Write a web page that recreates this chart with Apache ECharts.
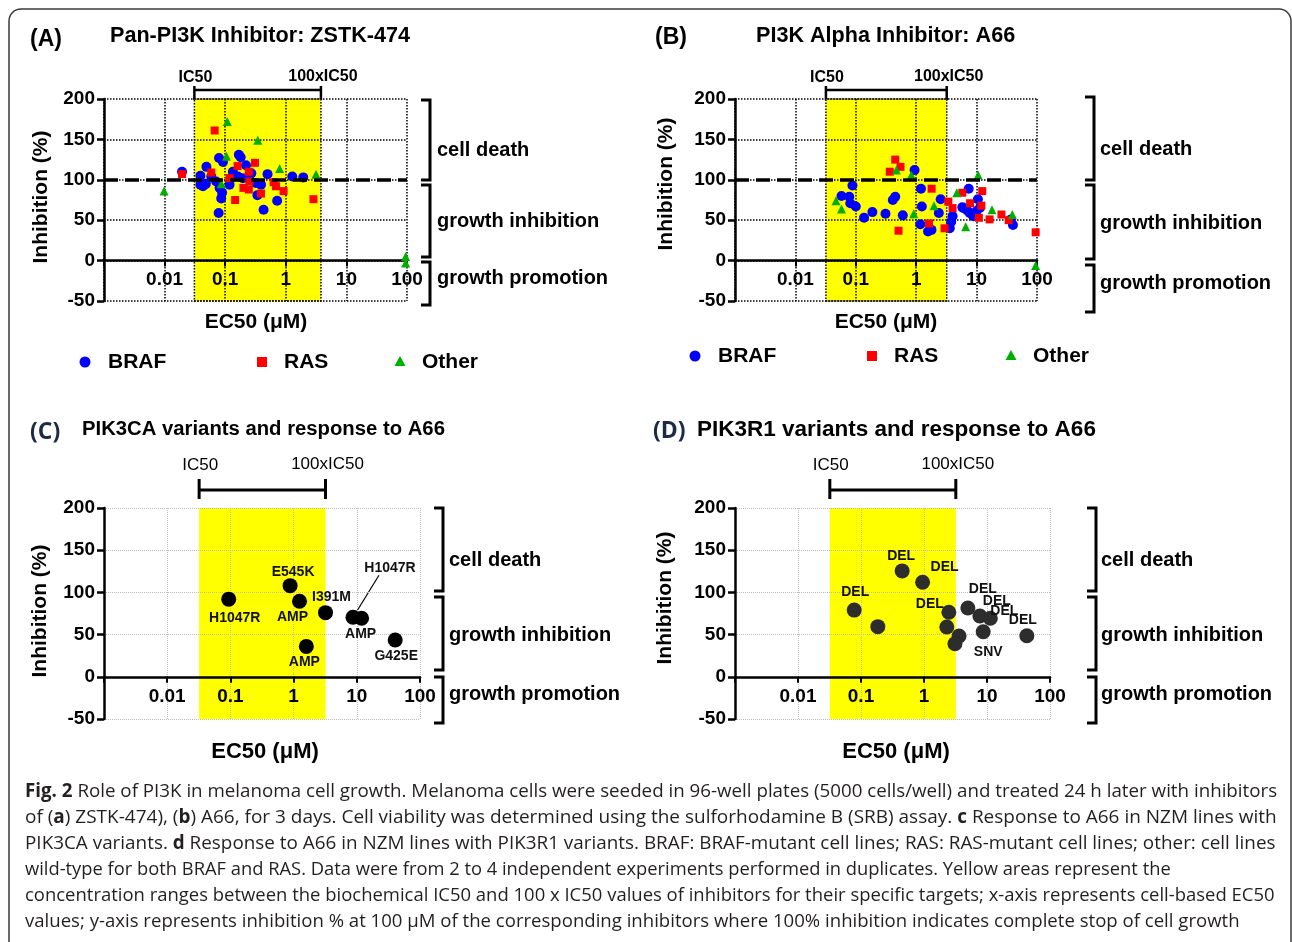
<!DOCTYPE html>
<html>
<head>
<meta charset="utf-8">
<script src="https://cdn.jsdelivr.net/npm/echarts@6/dist/echarts.min.js"></script>
<style>
  html, body { margin: 0; padding: 0; background: #fff; }
  #fig { width: 1292px; height: 942px; }
</style>
</head>
<body>
<div id="fig"></div>
<script>
// ---- data: [EC50 (uM), inhibition (%)] ----
// (A) pan-PI3K inhibitor ZSTK-474
var aBraf = [[0.0194,110],[0.039,105],[0.049,116],[0.079,127],[0.092,122],[0.039,94],[0.048,95],[0.059,104],
  [0.071,98],[0.081,90],[0.086,77],[0.078,59],[0.089,84],[0.126,102],[0.134,110],[0.168,131],[0.18,128],
  [0.22,118],[0.195,102],[0.25,104],[0.32,96],[0.34,81],[0.27,108],[0.39,94],[0.50,107],[0.43,63],
  [0.72,74],[1.28,104],[1.94,103],[0.118,94],[0.162,104],[0.043,92]];
var aRas = [[0.067,161],[0.0194,107],[0.059,109],[0.31,121],[0.16,117],[0.2,90],[0.245,88],[0.146,75],
  [0.63,97],[0.69,92],[0.92,86],[2.86,76],[0.39,83],[0.118,102],[0.245,110],[0.25,98]];
var aOther = [[0.0098,86],[0.108,172],[0.345,149],[0.79,114],[3.15,107],[0.105,129],[0.086,95],[95,5],[95,-3]];
var aIC50 = [0.031, 3.8];

// (B) PI3K alpha inhibitor A66
var bBraf = [[0.058,80],[0.088,93],[0.078,79],[0.081,71],[0.1,67],[0.137,53],[0.188,60],[0.31,58],[0.41,75],
  [0.45,79],[0.6,56],[0.94,112],[1.2,89],[1.24,67],[1.17,45],[1.57,36],[1.79,38],[2.37,59],[2.54,76],
  [4.0,55],[3.8,48],[3.6,40],[5.8,66],[7.4,89],[10.5,76],[6.0,65],[7.7,59],[8.8,55],[9.9,61],[11.3,65],
  [7,62],[37,51],[40,44]];
var bRas = [[0.365,110],[0.45,125],[0.55,116],[0.51,37],[1.8,89],[1.63,46],[2.95,40],[3.4,73],[5.8,84],
  [12.4,86],[12,68],[10.9,53],[16.4,51],[25.8,57],[34,50],[95,35],[7.8,71],[4.0,65]];
var bOther = [[0.047,74],[0.058,64],[0.47,112],[0.83,106],[0.91,58],[1.97,68],[4.7,84],[6.6,42],[10.6,106],
  [18,63],[39,57],[95,-6]];
var bIC50 = [0.032, 3.2];

// (C) PIK3CA variants, A66
var cEc50 = [0.094, 0.88, 1.24, 3.2, 1.59, 8.7, 11.9, 40.5];
var cInh = [92, 108, 89.5, 76, 36, 70.5, 69.3, 43.6];
var cVariant = ['H1047R', 'E545K', 'AMP', 'I391M', 'AMP', 'H1047R', 'AMP', 'G425E'];
var cIC50 = [0.032, 3.2];

// (D) PIK3R1 variants, A66
var dEc50 = [0.078, 0.45, 0.95, 0.185, 2.48, 2.3, 3.6, 3.1, 4.97, 7.7, 11.3, 8.7, 42.9];
var dInh = [79, 125.5, 112, 59.4, 76.5, 59, 48.3, 39.2, 81.6, 72, 69.3, 53.4, 48.7];
var dVariant = ['DEL', 'DEL', 'DEL', 'INDEL', 'DEL', 'INDEL', 'INDEL', '', 'DEL', 'DEL', 'DEL', 'SNV', 'DEL'];
var dIC50 = [0.032, 3.2];

// label placement (pixel shifts from the point)
var cLabelShift = [[6,19],[3,-14],[-7,16],[6,-16],[-2,16],[37,-49],[-1,16],[1,16]];
var dLabelShift = [[1,-18],[-1,-15],[22,-15],null,[-19,-8],null,null,null,[15,-19],[17,-15],[14,-7],[5,20],[-4,-16]];

var FONT = '"Liberation Sans", Arial, sans-serif';
var CAP = '"Open Sans", "Noto Sans", sans-serif';

var grids = [
  {left: 104, top: 99, width: 303, height: 202},
  {left: 735, top: 99, width: 302, height: 202},
  {left: 104, top: 508, width: 316, height: 211},
  {left: 735, top: 508, width: 315, height: 211}
];

function decade(v) {
  if (v < 0.005) return '';
  return String(+v.toPrecision(2));
}

function gridLine(i) {
  return i < 2 ? {color: '#000', width: 1.5, type: 'dotted'}
               : {color: '#bdbdbd', width: 1, type: 'dotted'};
}

// the x axis sits on y = 0 : shift it up from the bottom by 50/250 of the plot height
function xAxisFor(i) {
  return {
    type: 'log', logBase: 10, min: 0.001, max: 100, gridIndex: i, z: 2,
    offset: -grids[i].height * 50 / 250,
    axisLine: {onZero: false, lineStyle: {color: '#000', width: 2.5}},
    axisTick: {show: true, length: 6, lineStyle: {color: '#000', width: 2}},
    minorTick: {show: false},
    axisLabel: {color: '#000', fontFamily: FONT, fontWeight: 'bold', fontSize: 19, margin: 10, formatter: decade},
    splitLine: {show: true, lineStyle: gridLine(i)}
  };
}

function yAxisFor(i) {
  return {
    type: 'value', min: -50, max: 200, interval: 50, gridIndex: i, z: 2,
    axisLine: {show: true, onZero: false, lineStyle: {color: '#000', width: 2.5}},
    axisTick: {show: true, length: 7, lineStyle: {color: '#000', width: 2.5}},
    axisLabel: {color: '#000', fontFamily: FONT, fontWeight: 'bold', fontSize: 19, margin: 9},
    splitLine: {show: true, lineStyle: gridLine(i)}
  };
}

function band(ic, dotted) {
  return {
    silent: true,
    itemStyle: dotted ? {color: '#ffff00', borderColor: '#000', borderWidth: 1.5, borderType: 'dotted'}
                      : {color: '#ffff00', borderWidth: 0},
    data: [[{xAxis: ic[0]}, {xAxis: ic[1]}]]
  };
}

var cutoffLine = {
  silent: true, symbol: ['none', 'none'], label: {show: false},
  lineStyle: {color: '#000', width: 3.5, type: [14, 7]},
  data: [{yAxis: 100}]
};

function groupSeries(i, name, data, symbol, size, color, ic) {
  var s = {
    name: name, type: 'scatter', xAxisIndex: i, yAxisIndex: i, z: 3,
    symbol: symbol, symbolSize: size, itemStyle: {color: color, opacity: 1},
    data: data
  };
  if (ic) {
    s.markArea = band(ic, true);
    s.markLine = cutoffLine;
  }
  return s;
}

function variantSeries(i, xs, ys, names, shifts, color, ic) {
  var pts = xs.map(function (x, k) {
    var item = {value: [x, ys[k]], name: names[k]};
    if (shifts[k] && names[k]) {
      item.label = {show: true, formatter: names[k], offset: shifts[k]};
    }
    return item;
  });
  return {
    type: 'scatter', xAxisIndex: i, yAxisIndex: i, z: 3,
    symbol: 'circle', symbolSize: 15, itemStyle: {color: color, opacity: 1},
    label: {show: false, position: 'inside', color: '#111', fontFamily: FONT, fontWeight: 'bold', fontSize: 14},
    markArea: band(ic, false),
    data: pts
  };
}

var option = {
  animation: false,
  backgroundColor: '#fff',
  grid: grids,
  xAxis: [0, 1, 2, 3].map(xAxisFor),
  yAxis: [0, 1, 2, 3].map(yAxisFor),
  series: [
    groupSeries(0, 'BRAF', aBraf, 'circle', 10, '#0000ff', aIC50),
    groupSeries(0, 'RAS', aRas, 'rect', 8, '#ff0000'),
    groupSeries(0, 'Other', aOther, 'triangle', 9, '#00b000'),
    groupSeries(1, 'BRAF', bBraf, 'circle', 10, '#0000ff', bIC50),
    groupSeries(1, 'RAS', bRas, 'rect', 8, '#ff0000'),
    groupSeries(1, 'Other', bOther, 'triangle', 9, '#00b000'),
    variantSeries(2, cEc50, cInh, cVariant, cLabelShift, '#000', cIC50),
    variantSeries(3, dEc50, dInh, dVariant, dLabelShift, '#2d2d2d', dIC50)
  ]
};

var chart = echarts.init(document.getElementById('fig'), null, {renderer: 'canvas', width: 1292, height: 942});
chart.setOption(option);

// ---- static text, brackets and annotations ----
function txt(x, y, s, font, extra) {
  var st = {text: s, x: 0, y: 0, font: font, fill: '#000', align: 'left', verticalAlign: 'middle',
            textAlign: 'left', textVerticalAlign: 'middle'};
  var el = {type: 'text', x: x, y: y, style: st, silent: true};
  if (extra) {
    for (var k in extra) {
      if (k === 'rotation' || k === 'scaleX') el[k] = extra[k];
      else st[k] = extra[k];
    }
    if (extra.align) st.textAlign = extra.align;
  }
  return el;
}
function seg(x1, y1, x2, y2, w) {
  return {type: 'line', silent: true, shape: {x1: x1, y1: y1, x2: x2, y2: y2},
          style: {stroke: '#000', lineWidth: w || 3}};
}
function rightBracket(x, y1, y2) {
  return {type: 'polyline', silent: true, shape: {points: [[x - 9, y1], [x, y1], [x, y2], [x - 9, y2]]},
          style: {stroke: '#000', lineWidth: 3, fill: null}};
}
function px(i, x, y) {
  return chart.convertToPixel({xAxisIndex: i, yAxisIndex: i}, [x, y]);
}

var B = 'bold ';
var els = [];
els.push({type: 'rect', silent: true, shape: {x: 9, y: 9, width: 1282, height: 1000, r: 12},
          style: {fill: null, stroke: '#3a3a3a', lineWidth: 1.5}});

// panel headings
els.push(txt(30, 40, '(A)', B + '23px ' + FONT));
els.push(txt(110, 36, 'Pan-PI3K Inhibitor: ZSTK-474', B + '21.6px ' + FONT));
els.push(txt(655, 38, '(B)', B + '23px ' + FONT));
els.push(txt(756, 36, 'PI3K Alpha Inhibitor: A66', B + '21.6px ' + FONT));
els.push(txt(30, 432, '(C)', B + '23px ' + CAP, {fill: '#1d2a44'}));
els.push(txt(82, 429, 'PIK3CA variants and response to A66', B + '20.3px ' + FONT));
els.push(txt(653, 431, '(D)', B + '23px ' + CAP, {fill: '#1d2a44'}));
els.push(txt(697, 430, 'PIK3R1 variants and response to A66', B + '22.5px ' + FONT));

// axis names
var yNamePos = [[41, 197], [666, 184], [40, 611], [665, 598]];
var xNamePos = [[256, 322], [886, 322], [265, 752], [896, 752]];
yNamePos.forEach(function (p) {
  els.push(txt(p[0], p[1], 'Inhibition (%)', B + '21px ' + FONT, {align: 'center', rotation: Math.PI / 2}));
});
xNamePos.forEach(function (p, i) {
  els.push(txt(p[0], p[1], 'EC50 (\u03bcM)', B + (i < 2 ? '21px ' : '22px ') + FONT, {align: 'center'}));
});

// IC50 .. 100xIC50 brackets above each plot
var ics = [aIC50, bIC50, cIC50, dIC50];
ics.forEach(function (ic, i) {
  var l = px(i, ic[0], 200), r = px(i, ic[1], 200);
  var top = i < 2;
  var yLine = top ? 90 : 490, y1 = top ? 86 : 479, y2 = top ? 100 : 499;
  var yLab = top ? 78 : 465;
  var f = top ? B + '16px ' + FONT : '17px ' + FONT;
  els.push(seg(l[0], yLine, r[0], yLine, top ? 2.5 : 3));
  els.push(seg(l[0], y1, l[0], y2, top ? 2.5 : 3));
  els.push(seg(r[0], y1, r[0], y2, top ? 2.5 : 3));
  els.push(txt(l[0] + 1, yLab, 'IC50', f, {align: 'center'}));
  els.push(txt(r[0] + 2, yLab - 1, '100xIC50', f, {align: 'center'}));
});

// region brackets on the right
var zones = [
  {x: 430, lx: 437, br: [[100, 180], [185, 257], [262, 305]], ly: [150, 221, 278]},
  {x: 1094, lx: 1100, br: [[97, 180], [185, 259], [265, 312]], ly: [149, 223, 283]},
  {x: 443, lx: 449, br: [[508, 591], [597, 670], [677, 723]], ly: [560, 635, 694]},
  {x: 1096, lx: 1101, br: [[508, 591], [597, 670], [677, 723]], ly: [560, 635, 694]}
];
var zoneNames = ['cell death', 'growth inhibition', 'growth promotion'];
zones.forEach(function (z) {
  z.br.forEach(function (b, k) {
    els.push(rightBracket(z.x, b[0], b[1]));
    els.push(txt(z.lx, z.ly[k], zoneNames[k], B + '20px ' + FONT));
  });
});

// legends for A and B
function legend(y, xs) {
  els.push({type: 'circle', silent: true, shape: {cx: xs[0], cy: y, r: 5.5}, style: {fill: '#0000ff'}});
  els.push(txt(xs[0] + 23, y, 'BRAF', B + '21px ' + FONT));
  els.push({type: 'rect', silent: true, shape: {x: xs[1] - 5, y: y - 5, width: 10, height: 10}, style: {fill: '#ff0000'}});
  els.push(txt(xs[1] + 22, y, 'RAS', B + '21px ' + FONT));
  els.push({type: 'polygon', silent: true, shape: {points: [[xs[2], y - 6], [xs[2] + 5.5, y + 4], [xs[2] - 5.5, y + 4]]},
            style: {fill: '#00b000'}});
  els.push(txt(xs[2] + 22, y, 'Other', B + '21px ' + FONT));
}
legend(362, [85, 262, 400]);
legend(356, [695, 872, 1011]);

// leader line in C (H1047R)
var hp = px(2, cEc50[5], cInh[5]);
els.push(seg(hp[0] + 26, hp[1] - 42, hp[0] + 2, hp[1] - 3, 1.2));

// INDEL annotation in D
els.push(txt(897, 660, 'INDEL', B + '14px ' + FONT, {align: 'center', fill: '#111'}));
dVariant.forEach(function (v, k) {
  if (v !== 'INDEL') return;
  var p = px(3, dEc50[k], dInh[k]);
  els.push(seg(902, 651, p[0], p[1], 1.2));
});

// figure caption (each line squeezed a touch to end where the printed line ends)
var capLines = [
  '{b|Fig. 2} Role of PI3K in melanoma cell growth. Melanoma cells were seeded in 96-well plates (5000 cells/well) and treated 24 h later with inhibitors',
  'of ({b|a}) ZSTK-474), ({b|b}) A66, for 3 days. Cell viability was determined using the sulforhodamine B (SRB) assay. {b|c} Response to A66 in NZM lines with',
  'PIK3CA variants. {b|d} Response to A66 in NZM lines with PIK3R1 variants. BRAF: BRAF-mutant cell lines; RAS: RAS-mutant cell lines; other: cell lines',
  'wild-type for both BRAF and RAS. Data were from 2 to 4 independent experiments performed in duplicates. Yellow areas represent the',
  'concentration ranges between the biochemical IC50 and 100 x IC50 values of inhibitors for their specific targets; x-axis represents cell-based EC50',
  'values; y-axis represents inhibition % at 100 \u03bcM of the corresponding inhibitors where 100% inhibition indicates complete stop of cell growth'
];
var capSqueeze = [1.003, 1.016, 1.01, 0.981, 0.988, 0.994];
capLines.forEach(function (line, k) {
  els.push(txt(25, 792 + k * 26, line, '18.7px ' + CAP, {
    fill: '#231f20',
    scaleX: capSqueeze[k],
    rich: {b: {fontWeight: 'bold', fontFamily: CAP, fontSize: 18.7, fill: '#231f20'}}
  }));
});

chart.setOption({graphic: {elements: els}});
</script>
</body>
</html>
